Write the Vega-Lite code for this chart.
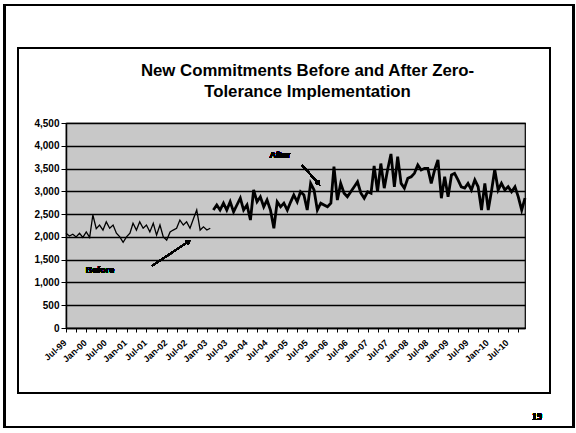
{
  "$schema": "https://vega.github.io/schema/vega-lite/v6.json",
  "width": 459,
  "height": 205,
  "autosize": {"type": "none"},
  "padding": {"left": 66, "top": 123, "right": 51, "bottom": 105},
  "background": "white",
  "config": {
    "font": "Liberation Sans",
    "view": {"fill": "#c8c8c8", "stroke": "black", "strokeWidth": 1.2}
  },
  "title": {
    "text": ["New Commitments Before and After Zero-", "Tolerance Implementation"],
    "font": "Liberation Sans",
    "fontSize": 16.8,
    "fontWeight": "bold",
    "color": "black",
    "anchor": "middle",
    "frame": "group",
    "dx": 12,
    "offset": -97,
    "lineHeight": 21
  },
  "resolve": {"axis": {"x": "independent", "y": "independent"}},
  "data": {
    "values": [
      {"date": "1999-07-01", "value": 2080, "period": "Before"},
      {"date": "1999-08-01", "value": 2020, "period": "Before"},
      {"date": "1999-09-01", "value": 2060, "period": "Before"},
      {"date": "1999-10-01", "value": 2000, "period": "Before"},
      {"date": "1999-11-01", "value": 2080, "period": "Before"},
      {"date": "1999-12-01", "value": 1990, "period": "Before"},
      {"date": "2000-01-01", "value": 2110, "period": "Before"},
      {"date": "2000-02-01", "value": 1990, "period": "Before"},
      {"date": "2000-03-01", "value": 2480, "period": "Before"},
      {"date": "2000-04-01", "value": 2180, "period": "Before"},
      {"date": "2000-05-01", "value": 2260, "period": "Before"},
      {"date": "2000-06-01", "value": 2150, "period": "Before"},
      {"date": "2000-07-01", "value": 2330, "period": "Before"},
      {"date": "2000-08-01", "value": 2190, "period": "Before"},
      {"date": "2000-09-01", "value": 2260, "period": "Before"},
      {"date": "2000-10-01", "value": 2080, "period": "Before"},
      {"date": "2000-11-01", "value": 2000, "period": "Before"},
      {"date": "2000-12-01", "value": 1880, "period": "Before"},
      {"date": "2001-01-01", "value": 2000, "period": "Before"},
      {"date": "2001-02-01", "value": 2080, "period": "Before"},
      {"date": "2001-03-01", "value": 2300, "period": "Before"},
      {"date": "2001-04-01", "value": 2150, "period": "Before"},
      {"date": "2001-05-01", "value": 2330, "period": "Before"},
      {"date": "2001-06-01", "value": 2190, "period": "Before"},
      {"date": "2001-07-01", "value": 2260, "period": "Before"},
      {"date": "2001-08-01", "value": 2110, "period": "Before"},
      {"date": "2001-09-01", "value": 2300, "period": "Before"},
      {"date": "2001-10-01", "value": 2040, "period": "Before"},
      {"date": "2001-11-01", "value": 2260, "period": "Before"},
      {"date": "2001-12-01", "value": 2000, "period": "Before"},
      {"date": "2002-01-01", "value": 1930, "period": "Before"},
      {"date": "2002-02-01", "value": 2110, "period": "Before"},
      {"date": "2002-03-01", "value": 2150, "period": "Before"},
      {"date": "2002-04-01", "value": 2190, "period": "Before"},
      {"date": "2002-05-01", "value": 2370, "period": "Before"},
      {"date": "2002-06-01", "value": 2260, "period": "Before"},
      {"date": "2002-07-01", "value": 2330, "period": "Before"},
      {"date": "2002-08-01", "value": 2190, "period": "Before"},
      {"date": "2002-09-01", "value": 2400, "period": "Before"},
      {"date": "2002-10-01", "value": 2590, "period": "Before"},
      {"date": "2002-11-01", "value": 2150, "period": "Before"},
      {"date": "2002-12-01", "value": 2220, "period": "Before"},
      {"date": "2003-01-01", "value": 2150, "period": "Before"},
      {"date": "2003-02-01", "value": 2190, "period": "Before"},
      {"date": "2003-03-01", "value": 2590, "period": "After"},
      {"date": "2003-04-01", "value": 2700, "period": "After"},
      {"date": "2003-05-01", "value": 2590, "period": "After"},
      {"date": "2003-06-01", "value": 2740, "period": "After"},
      {"date": "2003-07-01", "value": 2590, "period": "After"},
      {"date": "2003-08-01", "value": 2770, "period": "After"},
      {"date": "2003-09-01", "value": 2550, "period": "After"},
      {"date": "2003-10-01", "value": 2700, "period": "After"},
      {"date": "2003-11-01", "value": 2850, "period": "After"},
      {"date": "2003-12-01", "value": 2590, "period": "After"},
      {"date": "2004-01-01", "value": 2700, "period": "After"},
      {"date": "2004-02-01", "value": 2370, "period": "After"},
      {"date": "2004-03-01", "value": 3030, "period": "After"},
      {"date": "2004-04-01", "value": 2770, "period": "After"},
      {"date": "2004-05-01", "value": 2880, "period": "After"},
      {"date": "2004-06-01", "value": 2660, "period": "After"},
      {"date": "2004-07-01", "value": 2810, "period": "After"},
      {"date": "2004-08-01", "value": 2590, "period": "After"},
      {"date": "2004-09-01", "value": 2190, "period": "After"},
      {"date": "2004-10-01", "value": 2770, "period": "After"},
      {"date": "2004-11-01", "value": 2660, "period": "After"},
      {"date": "2004-12-01", "value": 2740, "period": "After"},
      {"date": "2005-01-01", "value": 2590, "period": "After"},
      {"date": "2005-02-01", "value": 2770, "period": "After"},
      {"date": "2005-03-01", "value": 2920, "period": "After"},
      {"date": "2005-04-01", "value": 2770, "period": "After"},
      {"date": "2005-05-01", "value": 2990, "period": "After"},
      {"date": "2005-06-01", "value": 2920, "period": "After"},
      {"date": "2005-07-01", "value": 2590, "period": "After"},
      {"date": "2005-08-01", "value": 3175, "period": "After"},
      {"date": "2005-09-01", "value": 3030, "period": "After"},
      {"date": "2005-10-01", "value": 2590, "period": "After"},
      {"date": "2005-11-01", "value": 2740, "period": "After"},
      {"date": "2005-12-01", "value": 2700, "period": "After"},
      {"date": "2006-01-01", "value": 2660, "period": "After"},
      {"date": "2006-02-01", "value": 2740, "period": "After"},
      {"date": "2006-03-01", "value": 3540, "period": "After"},
      {"date": "2006-04-01", "value": 2810, "period": "After"},
      {"date": "2006-05-01", "value": 3175, "period": "After"},
      {"date": "2006-06-01", "value": 2960, "period": "After"},
      {"date": "2006-07-01", "value": 2880, "period": "After"},
      {"date": "2006-08-01", "value": 2990, "period": "After"},
      {"date": "2006-09-01", "value": 3100, "period": "After"},
      {"date": "2006-10-01", "value": 3210, "period": "After"},
      {"date": "2006-11-01", "value": 2960, "period": "After"},
      {"date": "2006-12-01", "value": 2850, "period": "After"},
      {"date": "2007-01-01", "value": 2990, "period": "After"},
      {"date": "2007-02-01", "value": 2960, "period": "After"},
      {"date": "2007-03-01", "value": 3560, "period": "After"},
      {"date": "2007-04-01", "value": 2990, "period": "After"},
      {"date": "2007-05-01", "value": 3610, "period": "After"},
      {"date": "2007-06-01", "value": 3070, "period": "After"},
      {"date": "2007-07-01", "value": 3470, "period": "After"},
      {"date": "2007-08-01", "value": 3820, "period": "After"},
      {"date": "2007-09-01", "value": 3100, "period": "After"},
      {"date": "2007-10-01", "value": 3760, "period": "After"},
      {"date": "2007-11-01", "value": 3175, "period": "After"},
      {"date": "2007-12-01", "value": 3070, "period": "After"},
      {"date": "2008-01-01", "value": 3285, "period": "After"},
      {"date": "2008-02-01", "value": 3320, "period": "After"},
      {"date": "2008-03-01", "value": 3395, "period": "After"},
      {"date": "2008-04-01", "value": 3580, "period": "After"},
      {"date": "2008-05-01", "value": 3470, "period": "After"},
      {"date": "2008-06-01", "value": 3505, "period": "After"},
      {"date": "2008-07-01", "value": 3505, "period": "After"},
      {"date": "2008-08-01", "value": 3175, "period": "After"},
      {"date": "2008-09-01", "value": 3470, "period": "After"},
      {"date": "2008-10-01", "value": 3690, "period": "After"},
      {"date": "2008-11-01", "value": 2850, "period": "After"},
      {"date": "2008-12-01", "value": 3320, "period": "After"},
      {"date": "2009-01-01", "value": 2880, "period": "After"},
      {"date": "2009-02-01", "value": 3360, "period": "After"},
      {"date": "2009-03-01", "value": 3395, "period": "After"},
      {"date": "2009-04-01", "value": 3250, "period": "After"},
      {"date": "2009-05-01", "value": 3100, "period": "After"},
      {"date": "2009-06-01", "value": 3070, "period": "After"},
      {"date": "2009-07-01", "value": 3175, "period": "After"},
      {"date": "2009-08-01", "value": 3030, "period": "After"},
      {"date": "2009-09-01", "value": 3250, "period": "After"},
      {"date": "2009-10-01", "value": 3100, "period": "After"},
      {"date": "2009-11-01", "value": 2590, "period": "After"},
      {"date": "2009-12-01", "value": 3175, "period": "After"},
      {"date": "2010-01-01", "value": 2590, "period": "After"},
      {"date": "2010-02-01", "value": 3030, "period": "After"},
      {"date": "2010-03-01", "value": 3480, "period": "After"},
      {"date": "2010-04-01", "value": 3030, "period": "After"},
      {"date": "2010-05-01", "value": 3175, "period": "After"},
      {"date": "2010-06-01", "value": 3030, "period": "After"},
      {"date": "2010-07-01", "value": 3100, "period": "After"},
      {"date": "2010-08-01", "value": 2990, "period": "After"},
      {"date": "2010-09-01", "value": 3100, "period": "After"},
      {"date": "2010-10-01", "value": 2880, "period": "After"},
      {"date": "2010-11-01", "value": 2590, "period": "After"},
      {"date": "2010-12-01", "value": 2850, "period": "After"}
    ]
  },
  "layer": [
    {
      "mark": {"type": "line", "color": "black", "strokeJoin": "miter"},
      "encoding": {
        "x": {
          "field": "date",
          "type": "temporal",
          "scale": {
            "type": "utc",
            "domain": [
              {"year": 1999, "month": 7, "date": 1, "utc": true},
              {"year": 2010, "month": 12, "date": 1, "utc": true}
            ],
            "nice": false
          },
          "axis": {
            "title": null,
            "grid": false,
            "tickCount": {"interval": "month", "step": 3},
            "labelExpr": "utcmonth(datum.value) % 6 == 0 ? utcFormat(datum.value, '%b-%y') : ''",
            "labelAngle": -42,
            "labelFont": "Liberation Sans",
            "labelFontSize": 9,
            "labelFontWeight": "bold",
            "labelColor": "black",
            "labelOverlap": false,
            "labelBound": false,
            "labelFlush": false,
            "labelPadding": 6,
            "labelOffset": -4,
            "tickColor": "black",
            "tickSize": 4,
            "domainColor": "black",
            "domainWidth": 1.5
          }
        },
        "y": {
          "field": "value",
          "type": "quantitative",
          "scale": {"domain": [0, 4500], "nice": false},
          "axis": {
            "title": null,
            "values": [0, 500, 1000, 1500, 2000, 2500, 3000, 3500, 4000, 4500],
            "format": ",.0f",
            "labelOverlap": false,
            "grid": true,
            "gridColor": "black",
            "gridWidth": 1.5,
            "gridOpacity": 1,
            "labelFont": "Liberation Sans",
            "labelFontSize": 10,
            "labelFontWeight": "bold",
            "labelColor": "black",
            "labelPadding": 2,
            "tickColor": "black",
            "tickSize": 5,
            "domainColor": "black",
            "domainWidth": 1.5
          }
        },
        "detail": {"field": "period"},
        "strokeWidth": {
          "field": "period",
          "type": "nominal",
          "scale": {"domain": ["Before", "After"], "range": [1.3, 2.8]},
          "legend": null
        }
      }
    },
    {
      "mark": {"type": "rect", "fill": "transparent", "stroke": "black", "strokeWidth": 2},
      "encoding": {
        "x": {"datum": {"year": 1997, "month": 12, "date": 15, "utc": true}, "type": "temporal", "axis": null},
        "x2": {"datum": {"year": 2012, "month": 2, "date": 19, "utc": true}},
        "y": {"datum": 7090, "type": "quantitative", "axis": null},
        "y2": {"datum": -2173}
      }
    },
    {
      "mark": {"type": "rect", "fill": "transparent", "stroke": "black", "strokeWidth": 1.2},
      "encoding": {
        "x": {"datum": {"year": 1998, "month": 4, "date": 21, "utc": true}, "type": "temporal", "axis": null},
        "x2": {"datum": {"year": 2011, "month": 7, "date": 16, "utc": true}},
        "y": {"datum": 6146, "type": "quantitative", "axis": null},
        "y2": {"datum": -1427}
      }
    },
    {
      "mark": {"type": "text", "text": "Before", "font": "Liberation Sans", "fontSize": 9, "fontWeight": "bold", "color": "black"},
      "encoding": {
        "x": {"datum": {"year": 2000, "month": 5, "date": 5, "utc": true}, "type": "temporal", "axis": null},
        "y": {"datum": 1273, "type": "quantitative", "axis": null}
      }
    },
    {
      "mark": {"type": "text", "text": "After", "font": "Liberation Sans", "fontSize": 9, "fontWeight": "bold", "color": "black"},
      "encoding": {
        "x": {"datum": {"year": 2004, "month": 10, "date": 27, "utc": true}, "type": "temporal", "axis": null},
        "y": {"datum": 3797, "type": "quantitative", "axis": null}
      }
    },
    {
      "mark": {"type": "rule", "color": "black", "strokeWidth": 1.3},
      "encoding": {
        "x": {"datum": {"year": 2001, "month": 8, "date": 20, "utc": true}, "type": "temporal", "axis": null},
        "x2": {"datum": {"year": 2002, "month": 7, "date": 13, "utc": true}},
        "y": {"datum": 1361, "type": "quantitative", "axis": null},
        "y2": {"datum": 1888}
      }
    },
    {
      "mark": {"type": "point", "shape": "triangle", "filled": true, "color": "black", "opacity": 1, "size": 28, "angle": 56},
      "encoding": {
        "x": {"datum": {"year": 2002, "month": 7, "date": 13, "utc": true}, "type": "temporal", "axis": null},
        "y": {"datum": 1888, "type": "quantitative", "axis": null}
      }
    },
    {
      "mark": {"type": "rule", "color": "black", "strokeWidth": 1.3},
      "encoding": {
        "x": {"datum": {"year": 2005, "month": 5, "date": 14, "utc": true}, "type": "temporal", "axis": null},
        "x2": {"datum": {"year": 2005, "month": 10, "date": 7, "utc": true}},
        "y": {"datum": 3578, "type": "quantitative", "axis": null},
        "y2": {"datum": 3183}
      }
    },
    {
      "mark": {"type": "point", "shape": "triangle", "filled": true, "color": "black", "opacity": 1, "size": 28, "angle": 138},
      "encoding": {
        "x": {"datum": {"year": 2005, "month": 10, "date": 7, "utc": true}, "type": "temporal", "axis": null},
        "y": {"datum": 3183, "type": "quantitative", "axis": null}
      }
    },
    {
      "mark": {"type": "text", "text": "19", "font": "Liberation Serif", "fontSize": 10, "fontWeight": "bold", "color": "black"},
      "encoding": {
        "x": {"datum": {"year": 2011, "month": 3, "date": 20, "utc": true}, "type": "temporal", "axis": null},
        "y": {"datum": -1953, "type": "quantitative", "axis": null}
      }
    }
  ]
}
